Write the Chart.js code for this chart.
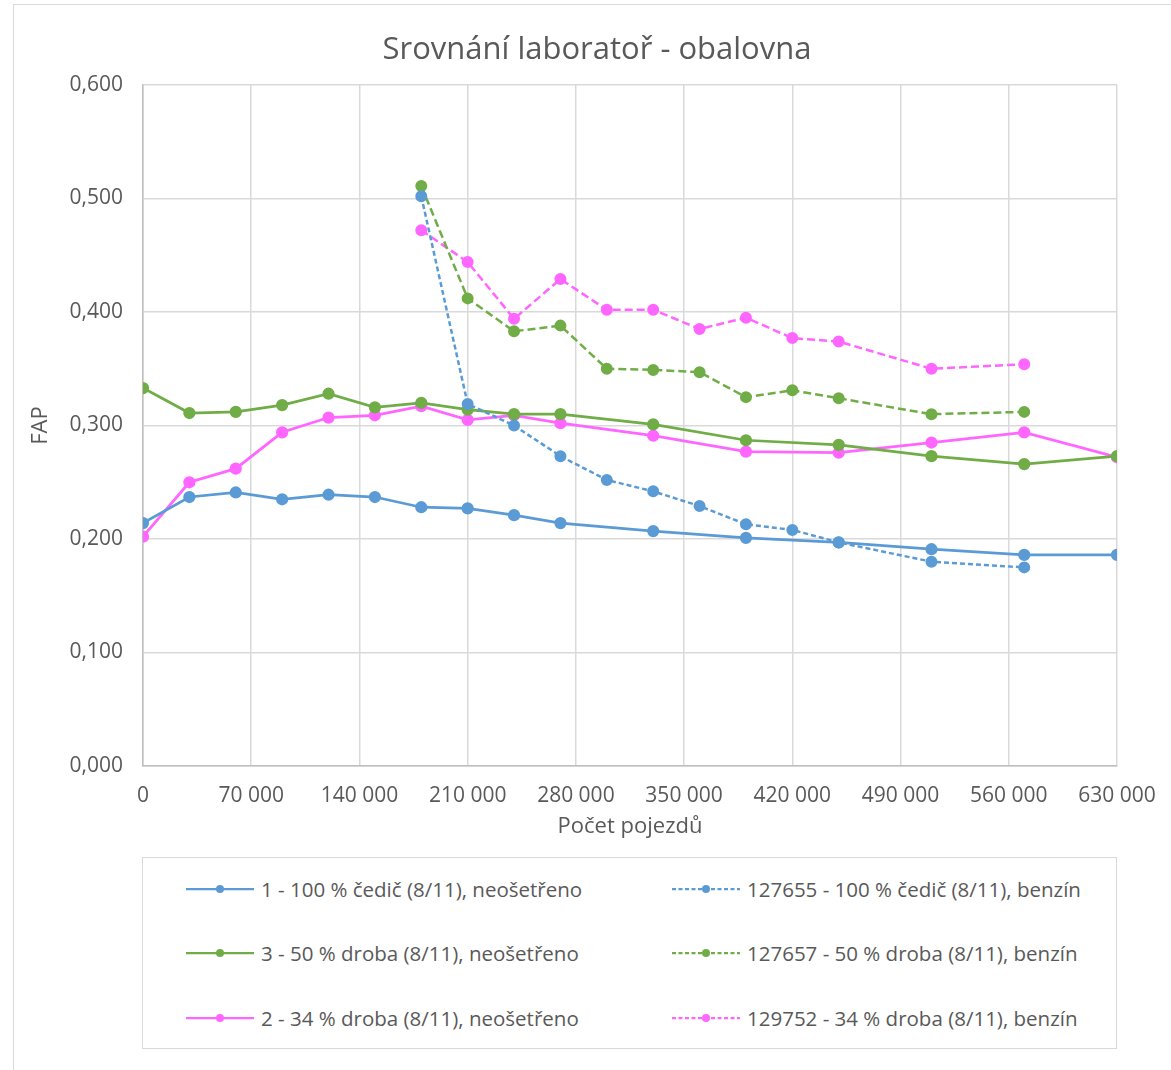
<!DOCTYPE html>
<html>
<head>
<meta charset="utf-8">
<script src="https://cdn.jsdelivr.net/npm/chart.js@4.4.1/dist/chart.umd.min.js"></script>
<style>
  body { margin: 0; background: #fff; font-family: 'Open Sans', sans-serif; }
  #wrap { position: relative; width: 1171px; height: 1070px; overflow: hidden; }
  #frame { position: absolute; left: 13px; top: 4px; width: 1200px; height: 1100px; border: 1px solid #d9d9d9; box-sizing: border-box; }
  #chart { position: absolute; left: 0; top: 0; }
  #title { position: absolute; left: 297px; width: 600px; top: 27px; text-align: center; color: #595959; font-size: 31px; line-height: 40px; white-space: nowrap; }
  #legend { position: absolute; left: 142px; top: 857px; width: 975px; height: 192px; border: 1px solid #d9d9d9; box-sizing: border-box; background: #fff; }
  .item { position: absolute; height: 30px; display: flex; align-items: center; color: #595959; font-size: 20.5px; white-space: nowrap; }
  .item svg { margin-right: 7px; }
</style>
</head>
<body>
<div id="wrap">
  <div id="frame"></div>
  <canvas id="chart" width="1171" height="1070"></canvas>
  <div id="title">Srovnání laboratoř - obalovna</div>
  <div id="legend"></div>
</div>
<script>
// x values (počet pojezdů)
const xSolid = [0, 30000, 60000, 90000, 120000, 150000, 180000, 210000, 240000, 270000, 330000, 390000, 450000, 510000, 570000, 630000];
const xDashed = [180000, 210000, 240000, 270000, 300000, 330000, 360000, 390000, 420000, 450000, 510000, 570000];

// FAP values
const cedic100 = [0.214, 0.237, 0.241, 0.235, 0.239, 0.237, 0.228, 0.227, 0.221, 0.214, 0.207, 0.201, 0.197, 0.191, 0.186, 0.186];
const droba50 = [0.333, 0.311, 0.312, 0.318, 0.328, 0.316, 0.320, 0.314, 0.310, 0.310, 0.301, 0.287, 0.283, 0.273, 0.266, 0.273];
const droba34 = [0.202, 0.250, 0.262, 0.294, 0.307, 0.309, 0.317, 0.305, 0.309, 0.302, 0.291, 0.277, 0.276, 0.285, 0.294, 0.272];
const cedic100Benzin = [0.502, 0.319, 0.300, 0.273, 0.252, 0.242, 0.229, 0.213, 0.208, 0.197, 0.180, 0.175];
const droba50Benzin = [0.511, 0.412, 0.383, 0.388, 0.350, 0.349, 0.347, 0.325, 0.331, 0.324, 0.310, 0.312];
const droba34Benzin = [0.472, 0.444, 0.394, 0.429, 0.402, 0.402, 0.385, 0.395, 0.377, 0.374, 0.350, 0.354];

const seriesNames = [
  '1 - 100 % čedič (8/11), neošetřeno',
  '127655 - 100 % čedič (8/11), benzín',
  '3 - 50 % droba (8/11), neošetřeno',
  '127657 - 50 % droba (8/11), benzín',
  '2 - 34 % droba (8/11), neošetřeno',
  '129752 - 34 % droba (8/11), benzín'
];

const BLUE = '#5b9bd5', GREEN = '#70ad47', PINK = '#ff66ff';
const TXT = '#595959';

function pts(xs, ys) {
  return xs.map((x, i) => ({ x: x, y: ys[i] }));
}

function ds(label, xs, ys, color, dash) {
  return {
    label: label,
    data: pts(xs, ys),
    borderColor: color,
    backgroundColor: color,
    pointBackgroundColor: color,
    pointBorderColor: color,
    borderWidth: dash ? 2.5 : 2.75,
    borderDash: dash || [],
    pointRadius: 4.75,
    pointHoverRadius: 4.75,
    tension: 0
  };
}

const datasets = [
  ds(seriesNames[0], xSolid, cedic100, BLUE),
  ds(seriesNames[1], xDashed, cedic100Benzin, BLUE, [5, 3]),
  ds(seriesNames[2], xSolid, droba50, GREEN),
  ds(seriesNames[3], xDashed, droba50Benzin, GREEN, [8, 4]),
  ds(seriesNames[4], xSolid, droba34, PINK),
  ds(seriesNames[5], xDashed, droba34Benzin, PINK, [8, 4])
];

const ctx = document.getElementById('chart').getContext('2d');
const chart = new Chart(ctx, {
  type: 'line',
  data: { datasets: datasets },
  options: {
    responsive: false,
    animation: false,
    layout: { padding: { left: 20, right: 54, top: 85, bottom: 224 } },
    plugins: {
      legend: { display: false },
      tooltip: { enabled: false }
    },
    scales: {
      x: {
        type: 'linear',
        min: 0,
        max: 630000,
        ticks: {
          stepSize: 70000,
          color: TXT,
          padding: 17,
          font: { family: 'Open Sans', size: 21 },
          maxRotation: 0,
          callback: v => v.toLocaleString('cs-CZ').replace(/\s/g, ' ')
        },
        grid: { color: '#d9d9d9', lineWidth: 1.5, drawTicks: false },
        border: { color: '#bfbfbf', width: 1.5 },
        title: {
          display: true,
          text: 'Počet pojezdů',
          color: TXT,
          font: { family: 'Open Sans', size: 22 },
          padding: { top: 0, bottom: 6 }
        },
        afterFit: s => { s.height = 80; s.paddingLeft = 0; s.paddingRight = 0; }
      },
      y: {
        min: 0,
        max: 0.6,
        ticks: {
          stepSize: 0.1,
          color: TXT,
          padding: 20,
          font: { family: 'Open Sans', size: 21 },
          callback: v => v.toFixed(3).replace('.', ',')
        },
        grid: { color: '#d9d9d9', lineWidth: 1.5, drawTicks: false },
        border: { color: '#bfbfbf', width: 1.5 },
        title: {
          display: true,
          text: 'FAP',
          color: TXT,
          font: { family: 'Open Sans', size: 22 },
          padding: { top: 8, bottom: 0 }
        },
        afterFit: s => { s.width = 123; s.paddingTop = 0; s.paddingBottom = 0; }
      }
    }
  }
});

// legend, two columns in the order of the reference
const legend = document.getElementById('legend');
const colX = [43, 529];
const rowY = [16, 80, 145];
chart.data.datasets.forEach((d, i) => {
  const item = document.createElement('div');
  item.className = 'item';
  item.style.left = colX[i % 2] + 'px';
  item.style.top = rowY[Math.floor(i / 2)] + 'px';
  const dash = d.borderDash.length ? 'stroke-dasharray="4 2.5"' : '';
  item.innerHTML =
    '<svg width="68" height="12"><line x1="0" y1="6" x2="68" y2="6" stroke="' + d.borderColor +
    '" stroke-width="2.25" ' + dash + '/><circle cx="34" cy="6" r="4" fill="' + d.borderColor + '"/></svg>' +
    '<span>' + d.label + '</span>';
  legend.appendChild(item);
});
</script>
</body>
</html>
